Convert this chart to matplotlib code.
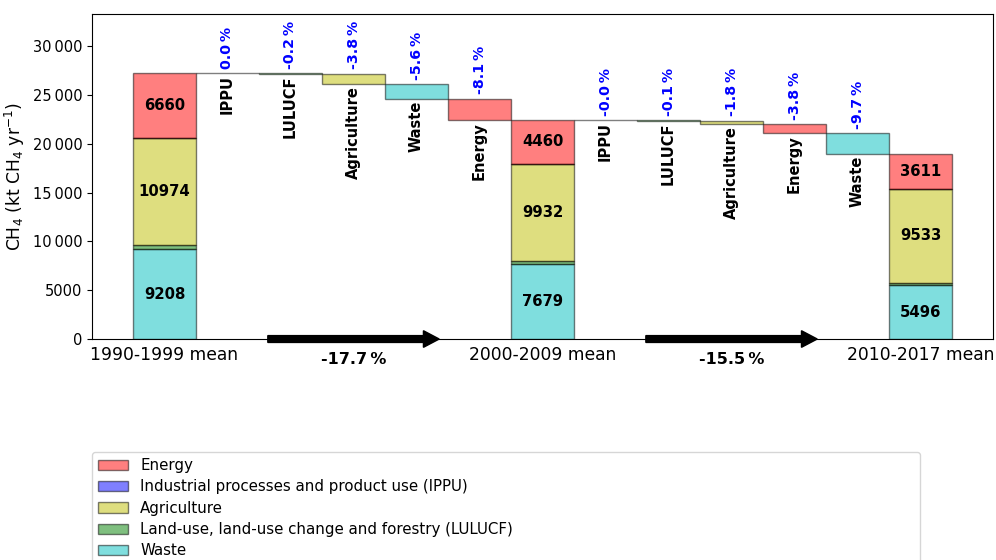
import numpy as np
import matplotlib; matplotlib.use("Agg")
import matplotlib.pyplot as plt
from matplotlib.patches import FancyArrow, Patch
from matplotlib.ticker import FuncFormatter

# sector means (kt CH4 / yr), stacked bottom -> top
sectors = ["Waste", "LULUCF", "Agriculture", "IPPU", "Energy"]
p1990 = [9208, 380, 10974, 30, 6660]
p2000 = [7679, 326, 9932, 30, 4460]
p2010 = [5496, 295, 9533, 20, 3611]
period_labels = ["1990-1999 mean", "2000-2009 mean", "2010-2017 mean"]
# order of the waterfall steps between periods
order1 = ["IPPU", "LULUCF", "Agriculture", "Waste", "Energy"]
order2 = ["IPPU", "LULUCF", "Agriculture", "Energy", "Waste"]

colors = {"Energy": "r", "IPPU": "b", "Agriculture": "y", "LULUCF": "g", "Waste": "c"}
legend_names = {"Energy": "Energy", "IPPU": "Industrial processes and product use (IPPU)",
                "Agriculture": "Agriculture", "LULUCF": "Land-use, land-use change and forestry (LULUCF)",
                "Waste": "Waste"}
show_value = {"Waste", "Agriculture", "Energy"}

fig = plt.figure(figsize=(9.96, 5.6), dpi=100)
ax = fig.add_axes([0.0924, 0.3946, 0.9046, 0.5804])


def stack(x, vals):
    bottom = 0
    for s, v in zip(sectors, vals):
        ax.bar(x, v, bottom=bottom, width=1.0, color=colors[s], alpha=0.5, edgecolor="k")
        if s in show_value:
            ax.text(x, bottom + v / 2, f"{v}", ha="center", va="center", fontsize=10.7, fontweight="bold")
        bottom += v
    return bottom


def steps(x0, old, new, order):
    old_d = dict(zip(sectors, old)); new_d = dict(zip(sectors, new))
    total = sum(old); level = total
    for i, s in enumerate(order):
        x = x0 + 1 + i
        d = new_d[s] - old_d[s]
        ax.bar(x, d, bottom=level, width=1.0, color=colors[s], alpha=0.5, edgecolor="k")
        lo, hi = min(level, level + d), max(level, level + d)
        ax.annotate(s, (x, lo), xytext=(0, -1.5), textcoords="offset points", rotation=90,
                    ha="center", va="top", fontsize=10.5, fontweight="bold")
        pct = d / total * 100
        ax.annotate(f"{pct:.1f}\u2009%", (x, hi), xytext=(0, 3), textcoords="offset points", rotation=90,
                    ha="center", va="bottom", fontsize=10.2, fontweight="bold", color="#0000ff")
        level += d


def arrow(xc, old, new):
    ax.add_patch(FancyArrow(xc - 1.36, 0, 2.72, 0, width=700, head_width=1700, head_length=0.25,
                            length_includes_head=True, color="k", clip_on=False, zorder=5))
    pct = (sum(new) - sum(old)) / sum(old) * 100
    ax.text(xc, -2050, f"{pct:.1f}\u2009%", ha="center", va="center", fontsize=11.5,
            fontweight="bold", clip_on=False)


stack(0, p1990); steps(0, p1990, p2000, order1)
stack(6, p2000); steps(6, p2000, p2010, order2)
stack(12, p2010)
arrow(3, p1990, p2000); arrow(9, p2000, p2010)

ax.set_xlim(-1.15, 13.15)
ax.set_ylim(0, 33300)
ax.set_xticks([0, 6, 12]); ax.set_xticklabels(period_labels, fontsize=12.3)
ax.tick_params(axis="x", length=0, pad=5)
ax.set_yticks(range(0, 30001, 5000))
ax.yaxis.set_major_formatter(FuncFormatter(
    lambda v, p: f"{v:,.0f}".replace(",", "\u2009") if v >= 10000 else f"{v:.0f}"))
ax.tick_params(axis="y", labelsize=10.5)
ax.set_ylabel("CH$_4$ (kt CH$_4$ yr$^{-1}$)", fontsize=12.3)

keys = ["Energy", "IPPU", "Agriculture", "LULUCF", "Waste"]
handles = [Patch(facecolor=colors[s], edgecolor="k", alpha=0.5) for s in keys]
ax.legend(handles, [legend_names[s] for s in keys],
          loc="upper left", bbox_to_anchor=(0.0, -0.348, 0.919, 0.0), mode="expand",
          borderaxespad=0, fontsize=10.8, labelspacing=0.42, frameon=True)

fig.savefig("out.png", dpi=100)
